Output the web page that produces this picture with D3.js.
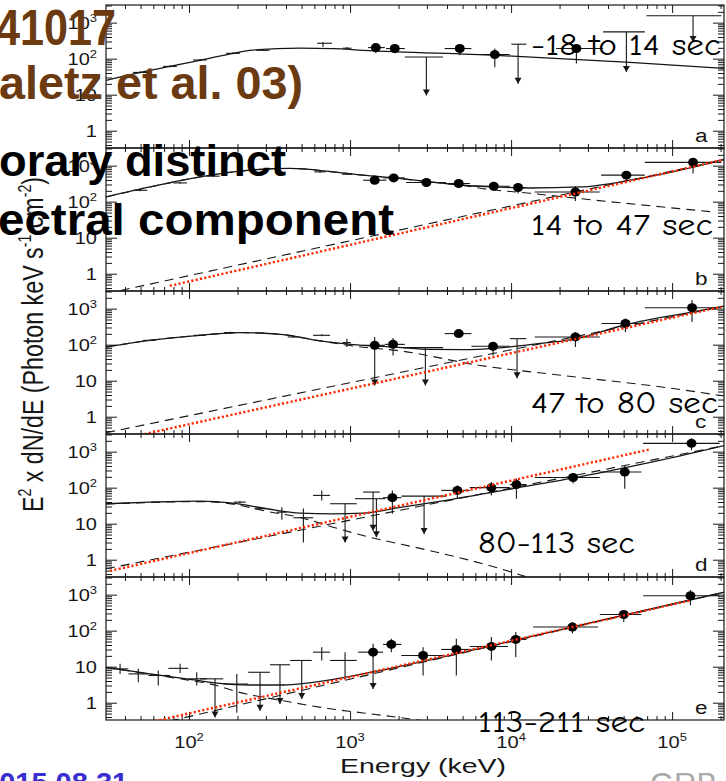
<!DOCTYPE html>
<html>
<head>
<meta charset="utf-8">
<script src="https://cdn.jsdelivr.net/npm/d3@7"></script>
<style>
  html, body { margin: 0; padding: 0; background: #fff; }
  svg { display: block; }
</style>
</head>
<body>
<svg id="chart" width="726" height="781"></svg>
<script>
// ---------- tick labels ----------
const xLabelExps = [2, 3, 4, 5];
const yTickVals = [1, 10, 100, 1000];
const yTickBase = ["1", "10", "10", "10"];
const yTickExp = ["", "", "2", "3"];

const panelLetters = ["a", "b", "c", "d", "e"];
const intervalLabels = ["-18 to 14 sec", "14 to 47 sec", "47 to 80 sec", "80-113 sec", "113-211 sec"];

// ---------- panel a : -18 to 14 s ----------
// model curves: [energy keV, E^2 dN/dE]
const modelA = [[30.5,24.8],[49.7,41.5],[76,61],[117,90],[188,141],[239,171],[489,195],[784,190],[1205,171],[8070,124],[54800,79],[210000,54]];
// detections: [E, Elo, Ehi, flux, fluxLo, fluxHi, lowerArrow]
const detA = [[1445,1294,1643,203,141,236,0],[1895,1673,2187,191,141,236,0],[4801,3864,5667,191,124,236,0],[7922,5808,9817,130,58,191,0],[25440,19030,37270,191,74,191,0]];
// upper limits: [Elo, Ehi, flux, E of arrow, arrow tip]
const ulA = [[2187,3780,111,2978,9.5],[10040,12450,252,11050,20.1],[37270,67670,555,52000,42.4],[69250,202400,1553,134900,292]];
// low-energy points without markers: [E, Elo, Ehi, flux, fluxLo, fluxHi]
const crossA = [[49.7,45,55,41.5,39,44],[76,69,84,61,57,65],[117,106,129,92,86,98],[188,170,207,141,132,150],[288,262,316,171,162,180],[679,624,773,268,211,292],[957,900,1020,195,180,212]];

// ---------- panel b : 14 to 47 s ----------
const modelB = [[30.5,135],[57.3,256],[117,488],[239,751],[424,837],[784,673],[1205,544],[1931,449],[3141,354],[5036,286],[8070,256],[13120,240],[26830,256],[54800,394],[112100,751],[213300,1523]];
const bandB = [[30.5,135],[57.3,256],[117,488],[239,751],[424,837],[784,673],[1205,544],[1931,449],[3141,354],[5036,283],[6420,236],[13120,171],[33730,109],[87900,71],[187500,51]];
const plB = [[30.5,0.28],[213000,1470]];
const fitB = [[76,0.46],[204600,1430]];
const detB = [[1422,1205,1681,394,394,394,0],[1866,1603,2187,457,457,457,0],[2978,2228,3945,340,340,340,0],[4730,3945,5559,319,319,319,0],[7810,5808,9817,268,268,268,0],[11050,9817,12450,247,168,332,0],[25080,14030,35560,186,104,268,0],[52000,36220,67670,544,354,673,0],[134900,67670,202400,1233,607,1592,0]];
const ulB = [];
const crossB = [[49.7,45,55,207,195,220],[88,80,97,332,315,350],[141,128,155,510,485,535],[276,250,305,785,750,820],[651,600,705,673,640,705],[957,890,1030,580,550,610]];

// ---------- panel c : 47 to 80 s ----------
const modelC = [[30.5,86],[57.3,132],[117,182],[207,217],[385,191],[621,132],[1205,96],[1940,86],[3126,74],[5036,73],[8110,80.5],[13060,100],[25440,147],[52000,363],[134900,816],[216300,1200]];
const bandC = [[30.5,86],[57.3,132],[117,182],[207,217],[385,191],[621,132],[1205,85],[1931,69.5],[6420,26.5],[21040,13.9],[87900,6.6],[207300,3.8]];
const plC = [[30.5,0.36],[216000,1200]];
const fitC = [[49.7,0.31],[202400,1125]];
const detC = [[1422,1205,1643,96,7.3,163,1],[1849,1643,2187,102,50,153,0],[4730,3864,5667,203,203,203,0],[7727,5667,9817,90,50,119,0],[25080,14030,35560,164,86,225,0],[51300,36400,66100,387,225,534,0],[133000,67670,202400,1056,429,1733,0]];
const ulC = [[2133,3780,83,2936,7.3],[9817,12450,147,10890,11.7]];
const crossC = [[57,52,62,132,126,138],[117,107,127,182,175,190],[180,165,196,217,205,230],[445,410,482,164,155,175],[667,589,751,182,170,195],[955,900,1010,114,86,147]];

// ---------- panel d : 80-113 s ----------
const modelD = [[30.5,35.8],[57.3,39.7],[117,42.4],[188,37.2],[304,26],[489,19.6],[784,18.8],[1205,19.6],[2045,28.2],[3945,44.3],[10290,94],[33730,247],[87900,600],[216300,1523]];
const bandD = [[30.5,35.2],[57.3,38.9],[117,41],[188,35],[304,22],[489,14.9],[784,8.0],[1205,4.7],[3141,1.78],[8070,0.61],[13120,0.31]];
const plD = [[30.5,0.56],[216000,1500]];
const fitD = [[32.3,0.49],[72700,1155]];
const detD = [[1831,1603,2083,52.7,18.8,84,0],[4640,3683,5540,84,49.4,116,0],[7544,5540,9817,100,61,144,0],[10790,9817,12450,122,49.4,179,0],[24270,14030,35560,191,130,247,0],[50800,35560,64400,273,94,421,0],[131900,66100,197400,1700,1104,2344,0]];
const ulD = [[751,1100,35.8,931,3.0],[1205,1529,75.5,1390,6.4],[1074,1648,49.4,1457,4.2],[2083,3963,58.4,2882,5.2]];
const crossD = [[207,190,225,39.7,37,42.5],[276,255,298,26,24,28],[377,350,405,20.9,12.8,28.8],[513,445,591,14.6,3.0,26.5],[667,589,751,61,44,84]];

// ---------- panel e : 113-211 s ----------
const modelE = [[30.5,9.6],[57.3,6.3],[96.8,4.6],[148.6,3.5],[239,3.1],[385,3.1],[621,3.8],[1205,6.3],[15140,79],[216300,1200]];
const bandE = [[30.5,9.6],[57.3,6.2],[96.8,4.3],[148.6,3.0],[188,2.16],[385,1.13],[787,0.66],[1205,0.52],[2980,0.31]];
const plE = [[76,0.31],[216000,1200]];
const fitE = [[61.5,0.31],[131900,704]];
const detE = [[1390,1122,1603,25.3,2.4,43.5,1],[1805,1603,2083,41.5,25.3,60,0],[2841,2083,3873,20.5,5.7,34.9,0],[4570,3683,5667,30.1,5.7,60,0],[7544,5540,9570,36.5,14.9,66.4,0],[10690,9817,12450,57.3,18.4,91.6,0],[24040,13700,34670,126,83,174,0],[50100,35560,64400,281,174,370,0],[129970,66100,197400,929,510,1340,0]];
const ulE = [[117,163,4.6,145,0.39],[233,318,7.0,276,0.60],[318,424,11.3,367,0.92],[424,578,14.9,501,1.26]];
const crossE = [[37.3,33.1,42,8.7,6.3,12],[48.4,42,55.9,6.3,3.7,8.7],[64.4,55.9,76.3,5.7,3.0,7.8],[88,74.4,99,9.0,6.7,12],[111.6,99,128.8,4.6,3.0,7.0],[198,163,233,3.3,0.53,6.3],[667,589,751,25.3,14.9,34.9],[931,751,1100,14.9,4.6,25.3]];

const panels = [
  { model: modelA, band: null,  pl: null, fit: null, det: detA, ul: ulA, cross: crossA },
  { model: modelB, band: bandB, pl: plB,  fit: fitB, det: detB, ul: ulB, cross: crossB },
  { model: modelC, band: bandC, pl: plC,  fit: fitC, det: detC, ul: ulC, cross: crossC },
  { model: modelD, band: bandD, pl: plD,  fit: fitD, det: detD, ul: ulD, cross: crossD },
  { model: modelE, band: bandE, pl: plE,  fit: fitE, det: detE, ul: ulE, cross: crossE }
];

// ---------- layout ----------
const plotLeft = 106, plotRight = 724, top0 = 5, panelH = 143;
const ink = "#161616";
const labelFont = "'Liberation Sans', Arial, Helvetica, sans-serif";
const handFont = "'Comic Sans MS', 'Comic Neue', 'DejaVu Sans', sans-serif";

const svg = d3.select("#chart");
const defs = svg.append("defs");

const x = d3.scaleLog().domain([30.5, 210000]).range([plotLeft, plotRight]);
const yDomain = [Math.pow(10, -0.48), Math.pow(10, 3.49)];

// minor ticks 2..9 per decade
const xMajor = [100, 1000, 10000, 100000];
const xMinor = [];
for (let d = 10; d <= 100000; d *= 10) for (let k = 2; k <= 9; k++) { const v = d * k; if (v > 30.5 && v < 210000) xMinor.push(v); }
const yMinor = [];
for (let d = 0.1; d <= 1000; d *= 10) for (let k = 2; k <= 9; k++) { const v = d * k; if (v > yDomain[0] && v < yDomain[1]) yMinor.push(v); }

function styleAxis(g) {
  g.select(".domain").remove();
  g.selectAll("line").attr("stroke", ink).attr("stroke-width", 1);
  g.selectAll("text").remove();
}

panels.forEach((p, i) => {
  const top = top0 + i * panelH;
  const bottom = top + panelH;
  const y = d3.scaleLog().domain(yDomain).range([bottom, top]);
  const g = svg.append("g");

  const clipId = "clip" + i;
  defs.append("clipPath").attr("id", clipId)
    .append("rect").attr("x", plotLeft).attr("y", top).attr("width", plotRight - plotLeft).attr("height", panelH);

  // ticks on all four sides, pointing inward
  [[yTickVals, 11], [yMinor, 6]].forEach(([vals, len]) => {
    g.append("g").attr("transform", `translate(${plotLeft},0)`)
      .call(d3.axisLeft(y).tickValues(vals).tickSize(-len)).call(styleAxis);
    g.append("g").attr("transform", `translate(${plotRight},0)`)
      .call(d3.axisRight(y).tickValues(vals).tickSize(-len)).call(styleAxis);
  });
  [[xMajor, 8], [xMinor, 4]].forEach(([vals, len]) => {
    g.append("g").attr("transform", `translate(0,${top})`)
      .call(d3.axisTop(x).tickValues(vals).tickSize(-len)).call(styleAxis);
    g.append("g").attr("transform", `translate(0,${bottom})`)
      .call(d3.axisBottom(x).tickValues(vals).tickSize(-len)).call(styleAxis);
  });

  // frame
  g.append("rect").attr("x", plotLeft).attr("y", top).attr("width", plotRight - plotLeft).attr("height", panelH)
    .attr("fill", "none").attr("stroke", ink).attr("stroke-width", 1.2);

  // y tick labels
  yTickVals.forEach((v, k) => {
    const t = g.append("text")
      .attr("transform", `translate(97,${y(v) + 6}) scale(1.18,1)`)
      .attr("text-anchor", "end").attr("font-family", labelFont).attr("font-size", 17).attr("fill", ink);
    t.append("tspan").text(yTickBase[k]);
    if (yTickExp[k]) t.append("tspan").attr("dy", -7).attr("font-size", 11).text(yTickExp[k]);
  });

  const plot = g.append("g").attr("clip-path", `url(#${clipId})`);
  const line = d3.line().x(d => x(d[0])).y(d => y(d[1])).curve(d3.curveMonotoneX);

  if (p.band) plot.append("path").attr("d", line(p.band)).attr("fill", "none")
    .attr("stroke", ink).attr("stroke-width", 1.1).attr("stroke-dasharray", "9,6");
  if (p.pl) plot.append("path").attr("d", line(p.pl)).attr("fill", "none")
    .attr("stroke", ink).attr("stroke-width", 1.1).attr("stroke-dasharray", "9,6");
  plot.append("path").attr("d", line(p.model)).attr("fill", "none")
    .attr("stroke", ink).attr("stroke-width", 1.3);

  const seg = (x1, y1, x2, y2) => plot.append("line")
    .attr("x1", x1).attr("y1", y1).attr("x2", x2).attr("y2", y2)
    .attr("stroke", ink).attr("stroke-width", 1.1);
  const arrowHead = (xa, yt) => plot.append("path")
    .attr("d", `M${xa - 3.5},${yt - 6}L${xa + 3.5},${yt - 6}L${xa},${yt}Z`).attr("fill", ink);

  p.cross.forEach(c => {
    seg(x(c[1]), y(c[3]), x(c[2]), y(c[3]));
    seg(x(c[0]), y(c[4]), x(c[0]), y(c[5]));
  });
  p.ul.forEach(u => {
    seg(x(u[0]), y(u[2]), x(u[1]), y(u[2]));
    seg(x(u[3]), y(u[2]), x(u[3]), y(u[4]));
    arrowHead(x(u[3]), y(u[4]));
  });
  p.det.forEach(d => {
    seg(x(d[1]), y(d[3]), x(d[2]), y(d[3]));
    seg(x(d[0]), y(d[4]), x(d[0]), y(d[5]));
    if (d[6]) arrowHead(x(d[0]), y(d[4]));
    plot.append("ellipse").attr("cx", x(d[0])).attr("cy", y(d[3])).attr("rx", 5).attr("ry", 4.5).attr("fill", "#000");
  });

  if (p.fit) plot.append("path").attr("d", line(p.fit)).attr("fill", "none")
    .attr("stroke", "#ff2a00").attr("stroke-width", 2.4).attr("stroke-dasharray", "2.2,2.2");

  // panel letter
  g.append("text").attr("transform", `translate(695,${bottom - 6}) scale(1.25,1)`)
    .attr("font-family", labelFont).attr("font-size", 18).attr("fill", ink).text(panelLetters[i]);
});

// x tick labels under the last panel
xLabelExps.forEach(e => {
  const t = svg.append("text")
    .attr("transform", `translate(${x(Math.pow(10, e))},748) scale(1.18,1)`)
    .attr("text-anchor", "middle").attr("font-family", labelFont).attr("font-size", 17).attr("fill", ink);
  t.append("tspan").text("10");
  t.append("tspan").attr("dy", -7).attr("font-size", 11).text(e);
});

// axis titles
svg.append("text").attr("x", 340).attr("y", 773)
  .attr("font-family", labelFont).attr("font-size", 21).attr("fill", ink)
  .attr("textLength", 166).attr("lengthAdjust", "spacingAndGlyphs").text("Energy (keV)");

const yt = svg.append("text")
  .attr("transform", "translate(43,512) scale(1.3,1) rotate(-90)")
  .attr("font-family", labelFont).attr("font-size", 23).attr("fill", ink)
  .attr("textLength", 335).attr("lengthAdjust", "spacingAndGlyphs");
yt.append("tspan").text("E");
yt.append("tspan").attr("dy", -9).attr("font-size", 14).text("2");
yt.append("tspan").attr("dy", 9).text(" x dN/dE (Photon keV s");
yt.append("tspan").attr("dy", -9).attr("font-size", 14).text("-1");
yt.append("tspan").attr("dy", 9).text(" cm");
yt.append("tspan").attr("dy", -9).attr("font-size", 14).text("-2");
yt.append("tspan").attr("dy", 9).text(")");

// interval labels
const intervalPos = [[531, 55, 190], [531, 235, 182], [531, 413, 187], [478, 553, 157], [478, 732, 167]];
intervalLabels.forEach((s, i) => {
  const [tx, ty, tl] = intervalPos[i];
  svg.append("text").attr("x", tx).attr("y", ty)
    .attr("font-family", handFont).attr("font-size", 31).attr("fill", "#000")
    .attr("textLength", tl).attr("lengthAdjust", "spacingAndGlyphs").text(s);
});

// slide headings over the figure
const bold = "'Liberation Sans', Arial, Helvetica, sans-serif";
const heading = (txt, tx, ty, size, color, len) => {
  const t = svg.append("text").attr("x", tx).attr("y", ty)
    .attr("font-family", bold).attr("font-weight", "bold").attr("font-size", size).attr("fill", color).text(txt);
  if (len) t.attr("textLength", len).attr("lengthAdjust", "spacingAndGlyphs");
};
heading("41017", -4, 45, 50, "#6b3a10", 120);
heading("aletz et al. 03)", -1, 99, 47, "#6b3a10", 304);
heading("orary distinct", -1, 176, 45, "#000", 287);
heading("ectral component", -2, 235, 45, "#000", 396);
heading("2015.08.31", -17, 793, 29, "#3a2ed0", null);
svg.append("text").attr("x", 650).attr("y", 795)
  .attr("font-family", bold).attr("font-size", 31).attr("fill", "#aaaaaa").text("GRB");
</script>
</body>
</html>
